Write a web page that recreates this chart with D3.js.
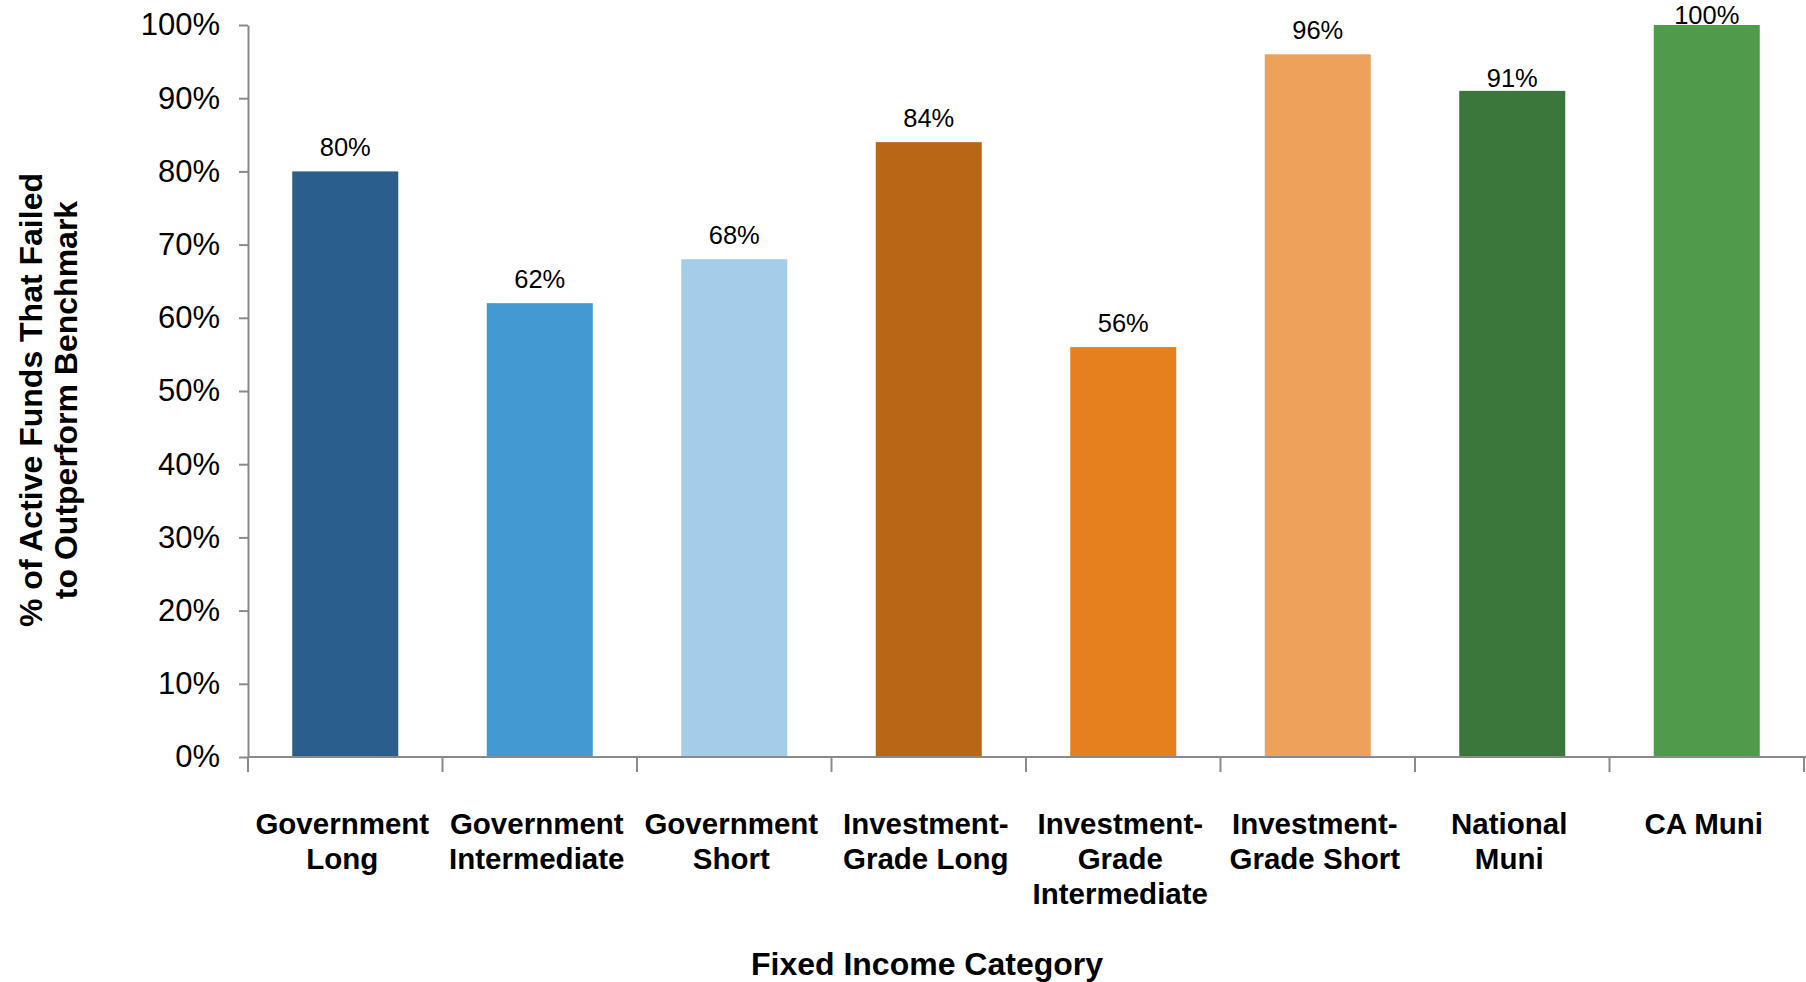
<!DOCTYPE html>
<html>
<head>
<meta charset="utf-8">
<script src="https://cdn.jsdelivr.net/npm/d3@7"></script>
<style>
  body { margin: 0; background: #fff; }
  text { font-family: "Liberation Sans", Arial, Helvetica, sans-serif; fill: #000; }
</style>
</head>
<body>
<div id="chart-area"></div>
<script>
// data
var categories = ["Government Long", "Government Intermediate", "Government Short",
  "Investment-Grade Long", "Investment-Grade Intermediate", "Investment-Grade Short",
  "National Muni", "CA Muni"];
var labelLines = [
  ["Government", "Long"], ["Government", "Intermediate"], ["Government", "Short"],
  ["Investment-", "Grade Long"], ["Investment-", "Grade", "Intermediate"],
  ["Investment-", "Grade Short"], ["National", "Muni"], ["CA Muni"]
];
var failedShare = [0.80, 0.62, 0.68, 0.84, 0.56, 0.96, 0.91, 1.00];
var barColors = ["#2a5f8b", "#4399d1", "#a3cde8", "#b96616", "#e5801e", "#eda15a", "#3b763a", "#4f9b4b"];
var yTicks = [0, 0.1, 0.2, 0.3, 0.4, 0.5, 0.6, 0.7, 0.8, 0.9, 1.0];

var width = 1806;
var height = 982;
var margin = { top: 25, right: 2, bottom: 225, left: 248 };
var charWidth = width - margin.left - margin.right;
var charHeight = height - margin.top - margin.bottom;

var svg = d3.select("#chart-area")
  .append("svg")
  .attr("width", width)
  .attr("height", height);
var g = svg.append("g")
  .attr("transform", "translate(" + margin.left + ", " + margin.top + ")");

var x = d3.scaleBand()
  .domain(categories)
  .range([0, charWidth])
  .paddingInner(0.455)
  .paddingOuter(0.2275);

var y = d3.scaleLinear()
  .domain([0, 1])
  .range([charHeight, 0]);

var axisColor = "#8a8a8a";

// bars
g.selectAll("rect")
  .data(failedShare).enter()
  .append("rect")
  .attr("x", (d, i) => x(categories[i]))
  .attr("y", d => y(d))
  .attr("width", x.bandwidth())
  .attr("height", d => charHeight - y(d))
  .attr("fill", (d, i) => barColors[i]);

// value labels
var gapOverride = { "National Muni": 4 };
g.selectAll(".value")
  .data(failedShare).enter()
  .append("text")
  .attr("class", "value")
  .attr("x", (d, i) => x(categories[i]) + x.bandwidth() / 2)
  .attr("y", (d, i) => {
    var gap = gapOverride[categories[i]] !== undefined ? gapOverride[categories[i]] : 15;
    return Math.max(y(d) - gap, -1);
  })
  .attr("text-anchor", "middle")
  .attr("font-size", "25.5px")
  .text(d => Math.round(d * 100) + "%");

// y axis
var leftAxis = d3.axisLeft(y)
  .tickValues(yTicks)
  .tickFormat(d3.format(".0%"))
  .tickSize(9)
  .tickSizeOuter(0)
  .tickPadding(19);
var yAxis = g.append("g")
  .attr("class", "y axis")
  .call(leftAxis);
yAxis.select(".domain").attr("stroke", axisColor).attr("stroke-width", 2);
yAxis.selectAll(".tick line").attr("stroke", axisColor).attr("stroke-width", 2);
yAxis.selectAll(".tick text")
  .attr("font-size", "31px")
  .attr("font-family", "Liberation Sans, Arial, sans-serif")
  .attr("fill", "#000");

// x axis: line with ticks on band boundaries
var xAxis = g.append("g")
  .attr("class", "x axis")
  .attr("transform", "translate(0, " + charHeight + ")");
xAxis.append("line")
  .attr("x1", 0).attr("x2", charWidth + margin.right)
  .attr("stroke", axisColor).attr("stroke-width", 2);
xAxis.selectAll(".bound")
  .data(d3.range(categories.length + 1)).enter()
  .append("line")
  .attr("class", "bound")
  .attr("x1", i => i * x.step())
  .attr("x2", i => i * x.step())
  .attr("y1", 0).attr("y2", 15)
  .attr("stroke", axisColor).attr("stroke-width", 2);

var catLabels = xAxis.selectAll(".cat")
  .data(labelLines).enter()
  .append("text")
  .attr("class", "cat")
  .attr("text-anchor", "middle")
  .attr("font-size", "29.5px")
  .attr("font-weight", "bold")
  .attr("transform", (d, i) => "translate(" + (x(categories[i]) + x.bandwidth() / 2 - 3) + ", 76.5)");
catLabels.selectAll("tspan")
  .data(d => d).enter()
  .append("tspan")
  .attr("x", 0)
  .attr("dy", (d, i) => i === 0 ? 0 : 35)
  .text(d => d);

// axis titles
svg.append("text")
  .attr("transform", "translate(42, 400) rotate(-90)")
  .attr("text-anchor", "middle")
  .attr("font-size", "32px")
  .attr("font-weight", "bold")
  .text("% of Active Funds That Failed");
svg.append("text")
  .attr("transform", "translate(77, 400) rotate(-90)")
  .attr("text-anchor", "middle")
  .attr("font-size", "32px")
  .attr("font-weight", "bold")
  .text("to Outperform Benchmark");

svg.append("text")
  .attr("x", 927)
  .attr("y", 975)
  .attr("text-anchor", "middle")
  .attr("font-size", "32px")
  .attr("font-weight", "bold")
  .text("Fixed Income Category");
</script>
</body>
</html>
